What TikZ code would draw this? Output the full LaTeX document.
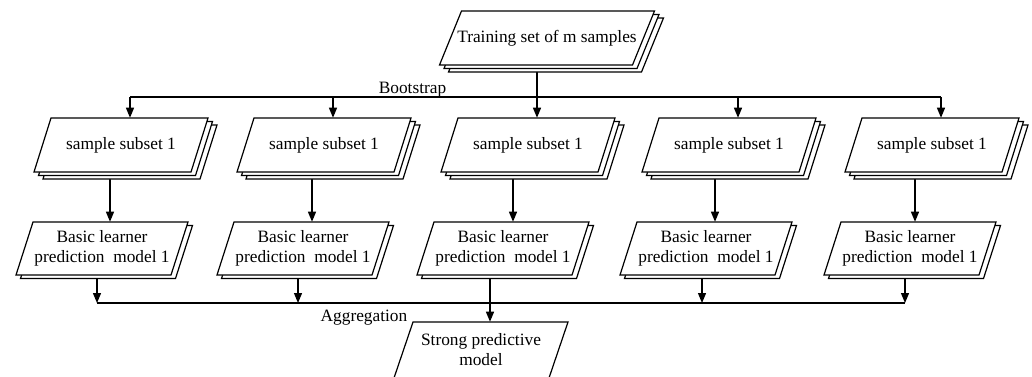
\documentclass[tikz,border=0pt]{standalone}
\usepackage{fontspec}
\setmainfont{Liberation Serif}
\usetikzlibrary{arrows.meta,backgrounds}
\tikzset{
  pgline/.style={draw=black, fill=white, line width=0.9pt, line join=miter},
  txt/.style={font=\fontsize{13}{15}\selectfont, align=center, inner sep=0pt, text=black},
  conn/.style={draw=black, line width=0.9pt},
  arr/.style={conn, -{Triangle[length=7.5pt,width=6pt]}},
}
% #1 name, #2 cx, #3 cy, #4 edge length, #5 height, #6 slant, #7 extra layers, #8 text
\newcommand\pgstack[8]{%
  \foreach \k in {#7,...,1}{%
    \draw[pgline] ({#2+\k*4.5-#4/2+#6/2},{#3+\k*3.5-#5/2}) -- ++(#4,0) -- ++({-#6},#5) -- ++({-#4},0) -- cycle;
  }
  \draw[pgline] ({#2-#4/2+#6/2},{#3-#5/2}) -- ++(#4,0) -- ++({-#6},#5) -- ++({-#4},0) -- cycle;
  \node[txt, minimum width={#4*0.75pt}, minimum height={#5*0.75pt}] (#1) at (#2,#3) {#8};
}
\begin{document}
\begin{tikzpicture}[x=0.75pt,y=-0.75pt]
\useasboundingbox (0,0) rectangle (1032,376);
% top
\pgstack{top}{547}{38}{193}{54}{22}{2}{Training set of m samples}
% subsets
\pgstack{s1}{121}{145}{157}{54}{17}{2}{sample subset 1}
\pgstack{s2}{324}{145}{157}{54}{17}{2}{sample subset 1}
\pgstack{s3}{528}{145}{157}{54}{17}{2}{sample subset 1}
\pgstack{s4}{729}{145}{157}{54}{17}{2}{sample subset 1}
\pgstack{s5}{932}{145}{157}{54}{17}{2}{sample subset 1}
% basic learners
\pgstack{b1}{102}{248.5}{155}{53}{17}{1}{Basic learner\\prediction~ model 1}
\pgstack{b2}{303}{248.5}{155}{53}{17}{1}{Basic learner\\prediction~ model 1}
\pgstack{b3}{503}{248.5}{155}{53}{17}{1}{Basic learner\\prediction~ model 1}
\pgstack{b4}{706}{248.5}{155}{53}{17}{1}{Basic learner\\prediction~ model 1}
\pgstack{b5}{910}{248.5}{155}{53}{17}{1}{Basic learner\\prediction~ model 1}
% strong model
\draw[pgline] ({481-155/2+19/2},322) -- ++(155,0) -- ++(-19,56) -- ++(-155,0) -- cycle;
\node[txt, minimum width={155*0.75pt}, minimum height={56*0.75pt}] (strong) at (481,350) {Strong predictive\\model};
% labels
\node[txt, anchor=base] (lbs) at (412.5,93) {Bootstrap};
\node[txt, anchor=base] (lag) at (364,321) {Aggregation};
% connectors
\begin{scope}[on background layer]
\fill[white] (0,0) rectangle (1032,376);
\coordinate (bs1) at (130,97);
\coordinate (bs2) at (333,97);
\coordinate (bs3) at (537,97);
\coordinate (bs4) at (738,97);
\coordinate (bs5) at (941,97);
\draw[conn] (bs1) -- (bs5);
\draw[arr] (top.south -| bs3) -- (s3.north -| bs3);
\foreach \i in {1,2,4,5} \draw[arr] (bs\i) -- (s\i.north -| bs\i);
\coordinate (sb1) at (110,200);
\coordinate (sb2) at (312,200);
\coordinate (sb3) at (513,200);
\coordinate (sb4) at (715,200);
\coordinate (sb5) at (915,200);
\foreach \i in {1,...,5} \draw[arr] (s\i.south -| sb\i) -- (b\i.north -| sb\i);
\coordinate (ag1) at (97,303);
\coordinate (ag2) at (298,303);
\coordinate (ag3) at (490,303);
\coordinate (ag4) at (702,303);
\coordinate (ag5) at (905,303);
\draw[conn] (ag1) -- (ag5);
\foreach \i in {1,2,4,5} \draw[arr] (b\i.south -| ag\i) -- (ag\i);
\draw[arr] (b3.south -| ag3) -- (strong.north -| ag3);
\end{scope}
\end{tikzpicture}
\end{document}
